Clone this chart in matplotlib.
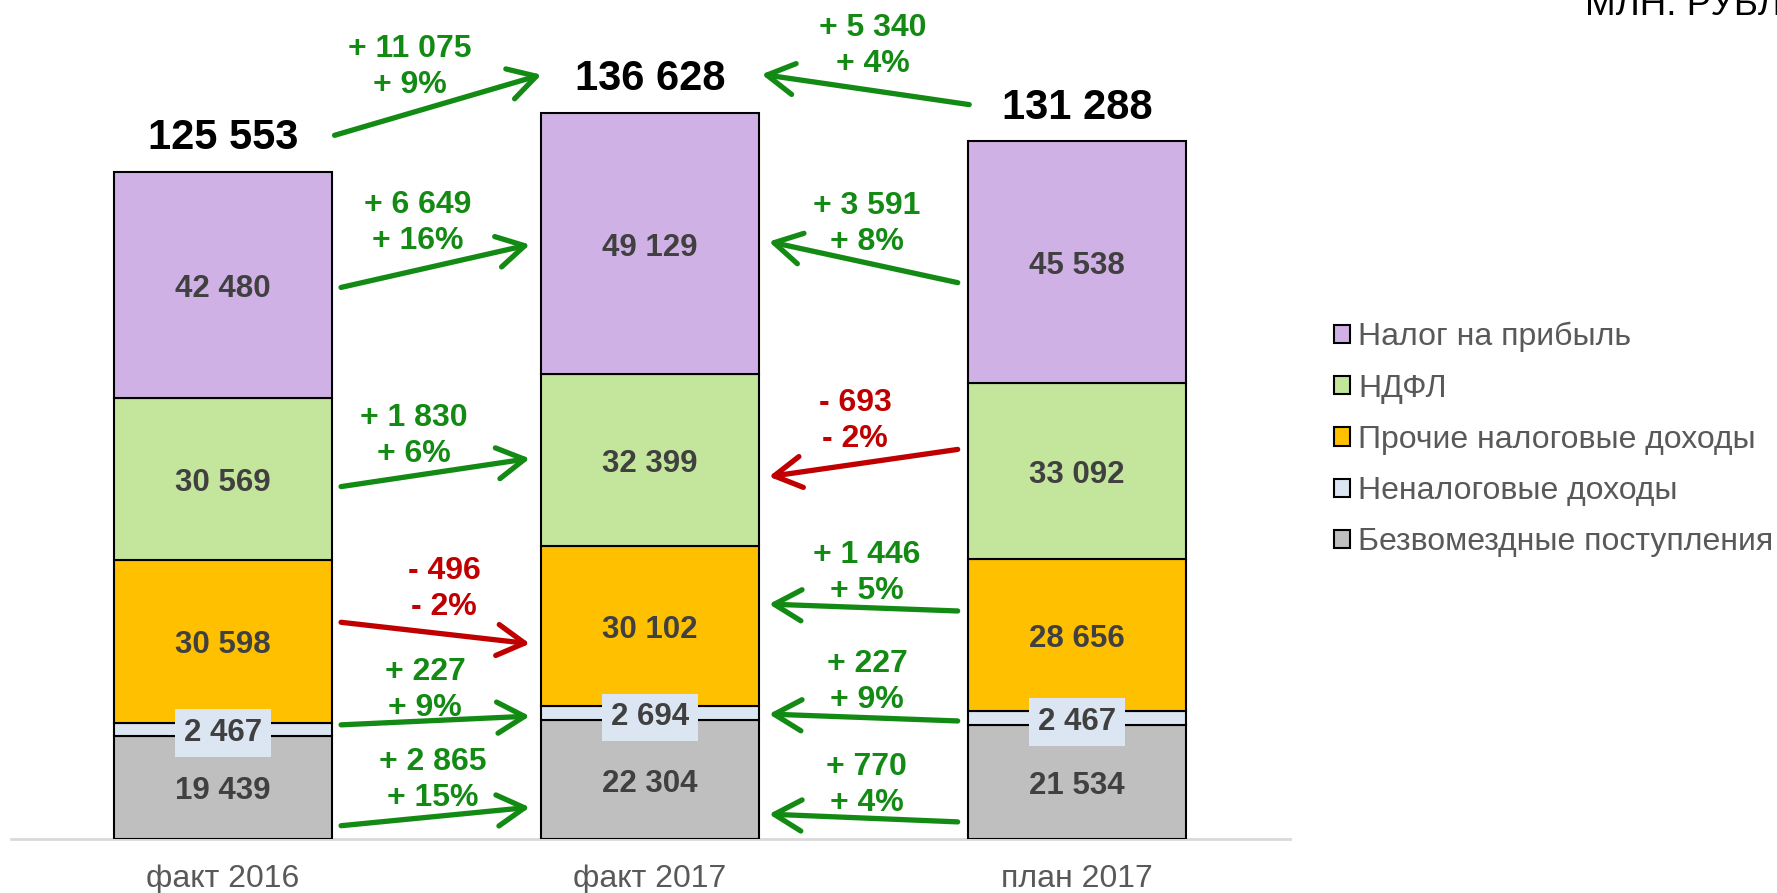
import matplotlib
matplotlib.use('Agg')
import matplotlib.pyplot as plt
from matplotlib.patches import FancyArrowPatch, Patch

plt.rcParams['font.family'] = ['Liberation Sans', 'DejaVu Sans']

# ---------------- data ----------------
categories = ['факт 2016', 'факт 2017', 'план 2017']
series_names = ['Безвомездные поступления', 'Неналоговые доходы',
                'Прочие налоговые доходы', 'НДФЛ', 'Налог на прибыль']
bezvozm = [19439, 22304, 21534]
nenalog = [2467, 2694, 2467]
prochie = [30598, 30102, 28656]
ndfl = [30569, 32399, 33092]
pribyl = [42480, 49129, 45538]
totals = [125553, 136628, 131288]

# changes fact2016 -> fact2017 (bottom to top), and total
left_delta = [2865, 227, -496, 1830, 6649]
left_pct = [15, 9, -2, 6, 16]
left_total_delta, left_total_pct = 11075, 9
# changes plan2017 -> fact2017
right_delta = [770, 227, 1446, -693, 3591]
right_pct = [4, 9, 5, -2, 8]
right_total_delta, right_total_pct = 5340, 4

# ---------------- style ----------------
colors = ['#BFBFBF', '#DCE6F2', '#FFC000', '#C3E59C', '#D0B1E6']
GREEN = '#138A13'
RED = '#C00000'
LBL = '#404040'
GRAY_TXT = '#595959'

# annotation layout (data units)
left_arrow_y0 = [2450, 21460, 40850, 66250, 103700]
left_arrow_y1 = [6020, 23150, 36700, 71700, 112000]
right_arrow_y0 = [3200, 22200, 42900, 73400, 104600]
right_arrow_y1 = [4700, 23530, 44230, 68130, 112550]
left_lbl_x = [0.492, 0.473, 0.518, 0.447, 0.457]
left_lbl_y = [11670, 28610, 47620, 76420, 116500]
right_lbl_x = [1.508, 1.508, 1.508, 1.48, 1.508]
right_lbl_y = [10730, 30110, 50630, 79240, 116320]
LBL_SHIFT = -560
SEG_SHIFT = -750

W, H = 1777, 893
fig = plt.figure(figsize=(W / 100, H / 100), dpi=100)
ax = fig.add_axes([11 / W, 54 / H, 1279 / W, 839 / H])
ax.set_xlim(-0.4965, 2.4988)
ax.set_ylim(0, 157914)
ax.axis('off')

x = list(range(len(categories)))
bw = 0.51
series = [bezvozm, nenalog, prochie, ndfl, pribyl]
bottom = [0, 0, 0]
for name, vals, col in zip(series_names, series, colors):
    ax.bar(x, vals, bw, bottom=bottom, color=col, edgecolor='black',
           linewidth=1.5, label=name, zorder=2)
    for xi, v, b in zip(x, vals, bottom):
        txt = f"{v:,}".replace(',', ' ')
        kw = {}
        if name == 'Неналоговые доходы':
            kw['bbox'] = dict(boxstyle='square,pad=0.28', fc=col, ec='none')
        ax.text(xi, b + v / 2 + SEG_SHIFT, txt, ha='center', va='center',
                fontsize=22.5, fontweight='bold', color=LBL, zorder=4, **kw)
    bottom = [b + v for b, v in zip(bottom, vals)]

ax.plot([-0.4965, 2.4988], [0, 0], color='#D9D9D9', lw=2, zorder=1,
        clip_on=False)

for xi, t in zip(x, totals):
    ax.text(xi, t + 6360, f"{t:,}".replace(',', ' '), ha='center',
            va='center', fontsize=30, fontweight='bold', color='black')

for xi, c in zip(x, categories):
    ax.text(xi, -7540, c, ha='center', va='center', fontsize=23,
            color=GRAY_TXT)


def fmt(d, p):
    s = '+ ' if d >= 0 else '- '
    return s + f"{abs(d):,}".replace(',', ' ') + '\n' + s + f"{abs(p)}%"


def arrow(x0, y0, x1, y1, col):
    a = FancyArrowPatch((x0, y0), (x1, y1),
                        arrowstyle='->,head_length=1.4,head_width=0.8',
                        mutation_scale=14, color=col, lw=3.8,
                        capstyle='round', joinstyle='round',
                        clip_on=False, zorder=5)
    ax.add_patch(a)


def change_label(xl, yl, text, col):
    ax.text(xl, yl + LBL_SHIFT, text, ha='center', va='center', fontsize=23,
            fontweight='bold', color=col, linespacing=1.25)


for i in range(5):
    col = GREEN if left_delta[i] >= 0 else RED
    arrow(0.27, left_arrow_y0[i], 0.725, left_arrow_y1[i], col)
    change_label(left_lbl_x[i], left_lbl_y[i],
                 fmt(left_delta[i], left_pct[i]), col)
    col = GREEN if right_delta[i] >= 0 else RED
    arrow(1.727, right_arrow_y0[i], 1.272, right_arrow_y1[i], col)
    change_label(right_lbl_x[i], right_lbl_y[i],
                 fmt(right_delta[i], right_pct[i]), col)

# totals
arrow(0.255, 132300, 0.752, 144000, GREEN)
change_label(0.438, 145870, fmt(left_total_delta, left_total_pct), GREEN)
arrow(1.754, 138150, 1.255, 144000, GREEN)
change_label(1.522, 149820, fmt(right_total_delta, right_total_pct), GREEN)

# legend
handles = [Patch(facecolor=c, edgecolor='black', linewidth=1.5)
           for c in colors][::-1]
leg = fig.legend(handles, series_names[::-1], loc='upper left',
                 bbox_to_anchor=(1334 / W, 1 - 322 / H), frameon=False,
                 fontsize=23, handlelength=0.5, handleheight=0.5,
                 handletextpad=0.25, labelspacing=0.665, borderpad=0,
                 borderaxespad=0)
for t in leg.get_texts():
    t.set_color(GRAY_TXT)

fig.text(1585 / W, 1 - 15 / H, 'МЛН. РУБЛЕЙ', ha='left', va='baseline',
         fontsize=26.5, color='black')

fig.savefig('out.png', dpi=100)
